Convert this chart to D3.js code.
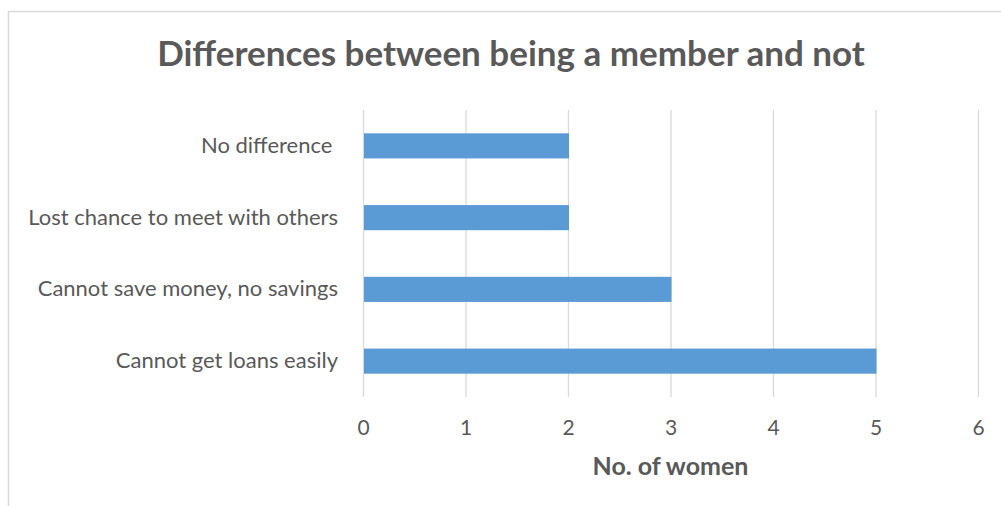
<!DOCTYPE html>
<html>
<head>
<meta charset="utf-8">
<script src="https://cdn.jsdelivr.net/npm/d3@7"></script>
<style>
  body { margin: 0; background: #fff; }
  svg { display: block; font-family: Lato, "Open Sans", sans-serif; }
  text { white-space: pre; }
</style>
</head>
<body>
<svg id="chart"></svg>
<script>
const width = 1001;
const height = 506;

// --- Data ---
const categories = ["No difference ", "Lost chance to meet with others", "Cannot save money, no savings", "Cannot get loans easily"];
const values = [2, 2, 3, 5];
const xTicks = [0, 1, 2, 3, 4, 5, 6];

const svg = d3.select("#chart")
  .attr("width", width)
  .attr("height", height);

// outer chart border (runs off the right and bottom edges)
svg.append("rect")
  .attr("x", 8.5)
  .attr("y", 11.5)
  .attr("width", width + 20)
  .attr("height", height + 20)
  .attr("fill", "none")
  .attr("stroke", "#d9d9d9")
  .attr("stroke-width", 1.5);

const margin = { left: 363, right: 23, top: 110, bottom: 109 };

const x = d3.scaleLinear()
  .domain([0, 6])
  .range([margin.left, width - margin.right]);

const y = d3.scaleBand()
  .domain(categories)
  .range([margin.top, height - margin.bottom])
  .paddingInner(0.65)
  .paddingOuter(0.325);

// --- Gridlines ---
svg.append("g")
  .selectAll("line")
  .data(xTicks)
  .join("line")
  .attr("x1", d => x(d) + 0.5)
  .attr("x2", d => x(d) + 0.5)
  .attr("y1", margin.top)
  .attr("y2", height - margin.bottom)
  .attr("stroke", "#d9d9d9")
  .attr("stroke-width", 1.3);

// --- Bars ---
svg.append("g")
  .selectAll("rect")
  .data(categories)
  .join("rect")
  .attr("x", x(0) + 1)
  .attr("y", d => y(d))
  .attr("width", (d, i) => x(values[i]) - x(0))
  .attr("height", y.bandwidth())
  .attr("fill", "#5b9bd5");

// --- X axis tick labels ---
const xAxis = svg.append("g")
  .attr("transform", `translate(0, ${height - margin.bottom})`)
  .call(d3.axisBottom(x).tickValues(xTicks).tickSize(0).tickPadding(23).tickFormat(d3.format("d")));
xAxis.select(".domain").remove();
xAxis.selectAll("text")
  .attr("font-family", "Lato, 'Open Sans', sans-serif")
  .attr("font-size", 21)
  .attr("fill", "#595959");

// --- Y axis category labels ---
const yAxis = svg.append("g")
  .attr("transform", `translate(${margin.left}, 0)`)
  .call(d3.axisLeft(y).tickSize(0).tickPadding(25));
yAxis.select(".domain").remove();
yAxis.selectAll("text")
  .attr("font-family", "Lato, 'Open Sans', sans-serif")
  .attr("font-size", 22)
  .attr("fill", "#595959");

// --- Title ---
svg.append("text")
  .attr("x", 511)
  .attr("y", 66)
  .attr("text-anchor", "middle")
  .attr("font-size", 35)
  .attr("font-weight", "bold")
  .attr("fill", "#595959")
  .text("Differences between being a member and not");

// --- Axis title ---
svg.append("text")
  .attr("x", (x(0) + x(6)) / 2)
  .attr("y", 475)
  .attr("text-anchor", "middle")
  .attr("font-size", 25)
  .attr("font-weight", "bold")
  .attr("fill", "#595959")
  .text("No. of women");
</script>
</body>
</html>
